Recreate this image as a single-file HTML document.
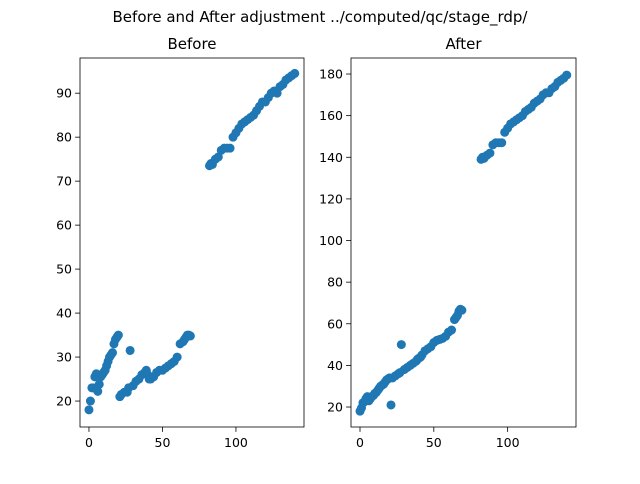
<!DOCTYPE html>
<html><head><meta charset="utf-8"><style>
body{margin:0;background:#fff;font-family:"DejaVu Sans","Liberation Sans",sans-serif}
</style></head><body>
<svg id="fig" width="640" height="480" xmlns="http://www.w3.org/2000/svg" font-family="DejaVu Sans, Liberation Sans, sans-serif">
<rect width="640" height="480" fill="#fff"/>
<text x="320" y="22" font-size="15" text-anchor="middle">Before and After adjustment ../computed/qc/stage_rdp/</text>
</svg>
<script>
const bx = [0,1,2,3,4,5,6,7,8,9,10,11,12,13,14,15,16,17,18,19,20,
 21,22,24,26,28,27,30,32,34,36,38,39,40,41,42,44,46,48,50,52,54,56,58,60,62,64,65,66,67,68,69,
 82,83,84,86,88,90,92,94,96,98,100,102,104,106,108,110,112,114,116,118,120,122,124,126,128,130,132,134,136,138,140];
const beforeY = [18,20,23,23,25.5,26.2,22.2,23.8,25.5,26,26.5,27,28,29,30,30.5,31,33,34,34.5,35,
 21,21.5,22,22,31.5,23,23.5,24.5,25,26,26.5,27,26,25,25,25.5,26.5,27,27,27.5,28,28.5,29,30,33,33.5,34,34.5,35,35,34.8,
 73.5,74,73.8,75,75.5,77,77.5,77.5,77.5,80,81,82,83,83.5,84,84.5,85,86,87,88,88,89,90,90.5,90,91.5,92,93,93.5,94,94.5];
const afterY = [18,19.5,22,22.5,24,25,23,24,25,25.5,26.5,27,28,29,30,30.5,31,32,33,33.5,34,
 21,34,35,36,50,36.5,38,39,40,41,42,43,43.5,44,45,47,48,49,51,52,52.5,53,54,56,57,62,63,64,66,67,66.5,
 139,140,139.5,141,142,146,147,147,147,152,154,156,157,158,159,160,162,163,164,166,167,168,170,171,171,173,174,176,177,178,179.5];
const leftYTicks = [20,30,40,50,60,70,80,90];
const rightYTicks = [20,40,60,80,100,120,140,160,180];
const xTicks = [0,50,100];

const NS = "http://www.w3.org/2000/svg";
const svg = document.getElementById('fig');
function mk(t, a, parent){const e=document.createElementNS(NS,t);for(const k in a)e.setAttribute(k,a[k]);(parent||svg).appendChild(e);return e;}

function panel(name, L, R, T, B, xmin, xmax, ymin, ymax, ys, yticks, title){
  const g = mk('g',{});
  
  
  const sx = v => L + (v - xmin) / (xmax - xmin) * (R - L);
  const sy = v => B - (v - ymin) / (ymax - ymin) * (B - T);
  for (let i = 0; i < bx.length; i++) {
    const c = mk('circle',{cx:sx(bx[i]),cy:sy(ys[i]),r:4.5,fill:'#1f77b4'},g);
    
    
  }
  const f = mk('rect',{x:L,y:T,width:R-L,height:B-T,fill:'none',stroke:'#000','stroke-width':0.8},g);
  
  
  xTicks.forEach(v=>{
    const x=sx(v);
    mk('line',{x1:x,x2:x,y1:B,y2:B+4.9,stroke:'#000','stroke-width':0.8},g);
    const t=mk('text',{x:x,y:B+20,'font-size':12.5,'text-anchor':'middle'},g);
    t.textContent=v;
    
    
  });
  yticks.forEach(v=>{
    const y=sy(v);
    mk('line',{x1:L-4.9,x2:L,y1:y,y2:y,stroke:'#000','stroke-width':0.8},g);
    const t=mk('text',{x:L-8,y:y+4.5,'font-size':12.5,'text-anchor':'end'},g);
    t.textContent=v;
    
    
  });
  const tt=mk('text',{x:(L+R)/2,y:T-9,'font-size':15,'text-anchor':'middle'},g);
  tt.textContent=title;
  
  
}
panel('before',80,304,58,427,-6.1,146.3,14.1,98,beforeY,leftYTicks,'Before');
panel('after',351,576,58,427,-6.1,146.3,10.4,187.7,afterY,rightYTicks,'After');
</script>
</body></html>
